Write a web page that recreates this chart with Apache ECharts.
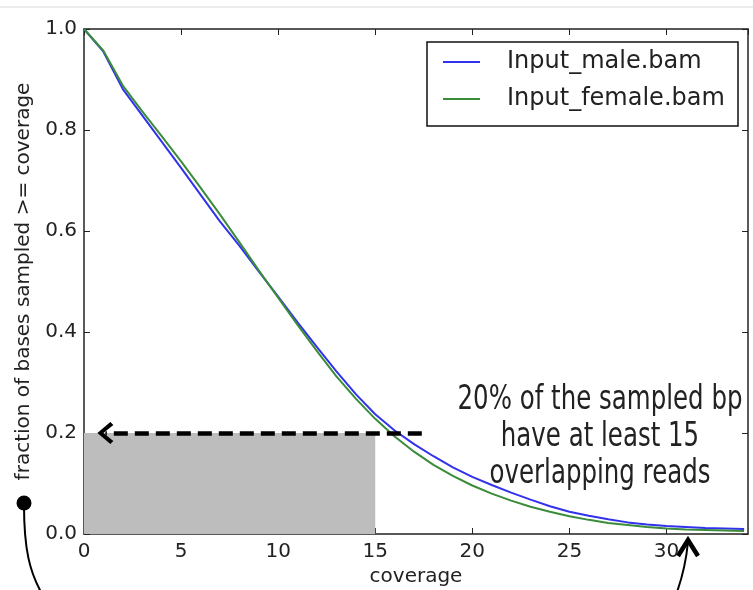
<!DOCTYPE html>
<html>
<head>
<meta charset="utf-8">
<script src="https://cdn.jsdelivr.net/npm/echarts@6/dist/echarts.min.js"></script>
<style>
html, body { margin: 0; padding: 0; background: #fff; }
#chart { width: 753px; height: 590px; }
</style>
</head>
<body>
<div id="chart"></div>
<script>
// coverage depth (x) and fraction of bases with at least that coverage (y)
var coverage = [0, 1, 2, 3, 4, 5, 6, 7, 8, 9, 10, 11, 12, 13, 14, 15, 16, 17, 18, 19, 20,
    21, 22, 23, 24, 25, 26, 27, 28, 29, 30, 31, 32, 33, 34];
var maleFrac = [1.0, 0.955, 0.881, 0.829, 0.777, 0.725, 0.672, 0.619, 0.571, 0.520, 0.470,
    0.419, 0.370, 0.322, 0.277, 0.237, 0.205, 0.178, 0.154, 0.132, 0.113,
    0.097, 0.082, 0.068, 0.055, 0.044, 0.036, 0.029, 0.023, 0.019, 0.016,
    0.014, 0.012, 0.011, 0.010];
var femaleFrac = [1.0, 0.957, 0.888, 0.837, 0.788, 0.738, 0.686, 0.633, 0.578, 0.522, 0.468,
    0.414, 0.362, 0.312, 0.268, 0.228, 0.193, 0.163, 0.137, 0.115, 0.096,
    0.080, 0.066, 0.054, 0.044, 0.035, 0.028, 0.022, 0.018, 0.014, 0.011,
    0.009, 0.008, 0.007, 0.006];
var seriesNames = ['Input_male.bam', 'Input_female.bam'];

// shaded region and dashed arrow
var shadeCov = 15;
var shadeFrac = 0.2;
var arrowStart = 17.4;
var arrowEnd = 1.1;
var noteLines = ['20% of the sampled bp', 'have at least 15', 'overlapping reads'];

var toPoints = function (xs, ys) {
    return xs.map(function (x, i) { return [x, ys[i]]; });
};

var labelColor = '#222';
var frameLine = { onZero: false, lineStyle: { color: '#222', width: 1.5 } };
var tickIn = { inside: true, length: 6, lineStyle: { color: '#222', width: 1 } };

var myChart = echarts.init(document.getElementById('chart'));
myChart.setOption({
    animation: false,
    grid: { left: 84, right: 5, top: 29, bottom: 56, containLabel: false, outerBoundsMode: 'none' },
    legend: {
        data: seriesNames,
        orient: 'vertical',
        left: 443,
        top: 48,
        icon: 'rect',
        itemWidth: 37,
        itemHeight: 2,
        itemGap: 9,
        padding: 0,
        textStyle: { fontFamily: 'DejaVu Sans', fontSize: 24, lineHeight: 28, color: labelColor, padding: [0, 0, 0, 22] }
    },
    xAxis: [{
        type: 'value',
        min: 0, max: 34.2, interval: 5,
        name: 'coverage',
        nameLocation: 'middle',
        nameGap: 32,
        nameTextStyle: { fontFamily: 'DejaVu Sans', fontSize: 20, color: labelColor },
        axisLine: frameLine,
        axisTick: tickIn,
        splitLine: { show: false },
        axisLabel: { fontFamily: 'DejaVu Sans', fontSize: 20, color: labelColor, margin: 8, showMaxLabel: false }
    }, {
        type: 'value', position: 'top',
        min: 0, max: 34.2, interval: 5,
        axisLine: frameLine,
        axisTick: tickIn,
        splitLine: { show: false },
        axisLabel: { show: false }
    }],
    yAxis: [{
        type: 'value',
        min: 0, max: 1, interval: 0.2,
        name: 'fraction of bases sampled >= coverage',
        nameLocation: 'middle',
        nameGap: 43,
        nameTextStyle: { fontFamily: 'DejaVu Sans', fontSize: 20, color: labelColor },
        axisLine: frameLine,
        axisTick: tickIn,
        splitLine: { show: false },
        axisLabel: {
            fontFamily: 'DejaVu Sans', fontSize: 20, color: labelColor, margin: 7,
            formatter: function (v) { return v.toFixed(1); }
        }
    }, {
        type: 'value', position: 'right',
        min: 0, max: 1, interval: 0.2,
        axisLine: frameLine,
        axisTick: tickIn,
        splitLine: { show: false },
        axisLabel: { show: false }
    }],
    series: [{
        name: 'marks',
        type: 'line',
        data: [],
        silent: true,
        markArea: {
            silent: true,
            itemStyle: { color: '#bdbdbd', opacity: 1 },
            data: [[{ coord: [0, 0] }, { coord: [shadeCov, shadeFrac] }]]
        },
        markLine: {
            silent: true,
            symbol: ['none', 'path://M11 0 L22 13 L19 16 L11 6 L3 16 L0 13 Z'],
            symbolSize: [22, 16],
            label: { show: false },
            lineStyle: { color: '#000', width: 4.5, type: [14, 7] },
            data: [[{ coord: [arrowStart, shadeFrac] }, { coord: [arrowEnd, shadeFrac] }]]
        }
    }, {
        name: seriesNames[0],
        type: 'line',
        data: toPoints(coverage, maleFrac),
        symbol: 'none',
        itemStyle: { color: '#3232ee' },
        lineStyle: { color: '#3232ee', width: 2 }
    }, {
        name: seriesNames[1],
        type: 'line',
        data: toPoints(coverage, femaleFrac),
        symbol: 'none',
        itemStyle: { color: '#3a8c3a' },
        lineStyle: { color: '#3a8c3a', width: 2 }
    }],
    graphic: [
        { type: 'line', shape: { x1: 0, y1: 7, x2: 753, y2: 7 }, style: { stroke: '#d9d9d9', lineWidth: 1 } },
        { type: 'rect', shape: { x: 427, y: 42, width: 311, height: 84 }, style: { fill: '#fff', stroke: '#111', lineWidth: 1.5 }, z: 3 },
        {
            type: 'text', x: 600, y: 437, z: 10, scaleX: 0.72,
            style: {
                text: noteLines.join('\n'),
                fontFamily: "'DejaVu Sans', sans-serif",
                fontWeight: 'normal',
                fontSize: 34, lineHeight: 37,
                align: 'center', verticalAlign: 'middle',
                fill: '#222'
            }
        },
        { type: 'circle', shape: { cx: 24, cy: 503, r: 7.5 }, style: { fill: '#000' } },
        {
            type: 'bezierCurve',
            shape: { x1: 24, y1: 505, cpx1: 24, cpy1: 550, cpx2: 30, cpy2: 572, x2: 41, y2: 592 },
            style: { stroke: '#000', lineWidth: 2, fill: null }
        },
        {
            type: 'polyline',
            shape: { points: [[678, 556], [688, 540], [698, 556]] },
            style: { stroke: '#000', lineWidth: 4.5, fill: null }
        },
        {
            type: 'bezierCurve',
            shape: { x1: 688, y1: 542, cpx1: 686, cpy1: 562, cpx2: 682, cpy2: 578, x2: 677, y2: 592 },
            style: { stroke: '#000', lineWidth: 2, fill: null }
        }
    ]
});
window.onresize = myChart.resize;
</script>
</body>
</html>
